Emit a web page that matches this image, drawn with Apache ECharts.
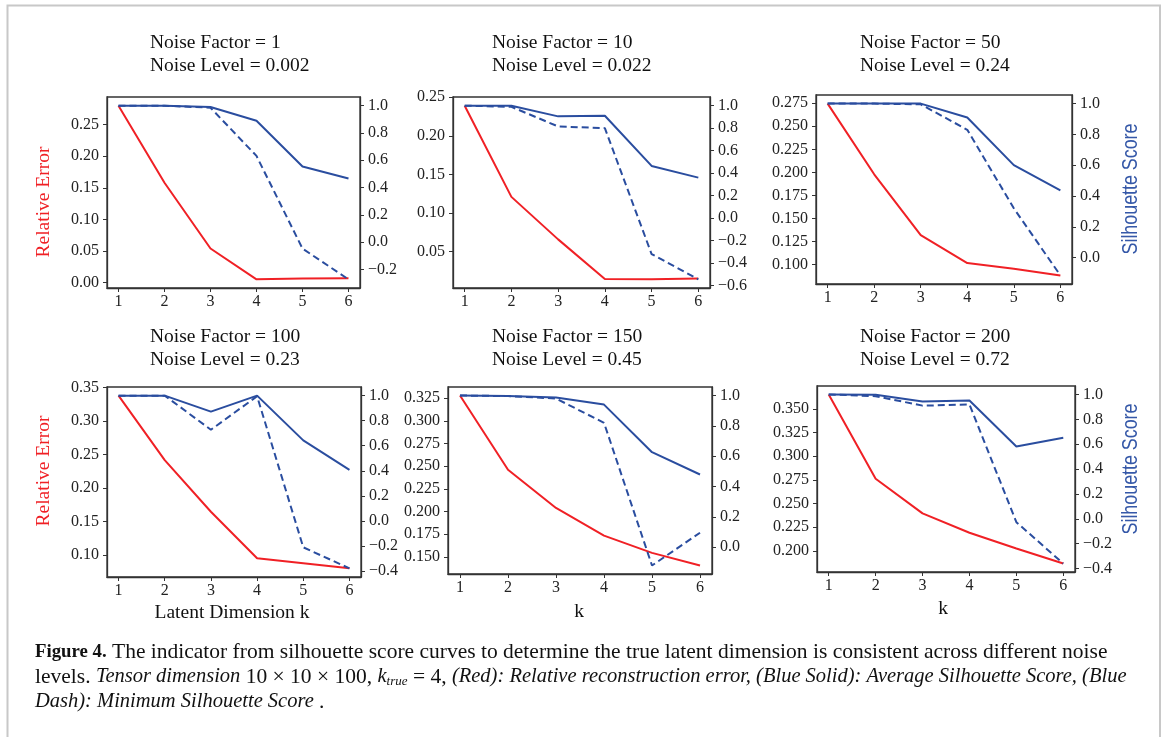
<!DOCTYPE html>
<html><head><meta charset="utf-8">
<script src="https://cdn.jsdelivr.net/npm/echarts@6/dist/echarts.min.js"></script>
<style>html,body{margin:0;padding:0;background:#fff}#c{width:1167px;height:737px}</style>
</head><body><div id="c"></div>
<script>
// ---------------- DATA ----------------
const kValues = [1, 2, 3, 4, 5, 6];
const xTicks = [1, 2, 3, 4, 5, 6];

const noiseFactors = ['1', '10', '50', '100', '150', '200'];
const noiseLevels = ['0.002', '0.022', '0.24', '0.23', '0.45', '0.72'];

// Relative error (red, left axis)
const red1 = [0.280, 0.158, 0.054, 0.0052, 0.0063, 0.0068];
const red2 = [0.239, 0.121, 0.066, 0.0147, 0.0143, 0.0152];
const red3 = [0.2746, 0.198, 0.132, 0.1018, 0.0957, 0.0884];
const red4 = [0.338, 0.2417, 0.1646, 0.095, 0.0876, 0.080];
const red5 = [0.328, 0.2461, 0.204, 0.1735, 0.1544, 0.1405];
const red6 = [0.3652, 0.2761, 0.2396, 0.2191, 0.2025, 0.1866];

// Average silhouette score (blue solid, right axis)
const avg1 = [1.0, 1.0, 0.99, 0.89, 0.554, 0.466];
const avg2 = [1.0, 1.0, 0.905, 0.91, 0.464, 0.36];
const avg3 = [1.0, 1.0, 1.0, 0.91, 0.60, 0.436];
const avg4 = [1.0, 1.0, 0.872, 1.0, 0.643, 0.408];
const avg5 = [1.0, 0.996, 0.987, 0.94, 0.626, 0.479];
const avg6 = [1.0, 0.997, 0.943, 0.951, 0.581, 0.651];

// Minimum silhouette score (blue dashed, right axis)
const min1 = [1.0, 1.0, 0.985, 0.632, -0.047, -0.272];
const min2 = [1.0, 0.99, 0.815, 0.80, -0.32, -0.545];
const min3 = [1.0, 1.0, 0.995, 0.83, 0.32, -0.116];
const min4 = [1.0, 1.0, 0.728, 0.995, -0.211, -0.379];
const min5 = [1.0, 0.996, 0.98, 0.82, -0.121, 0.095];
const min6 = [1.0, 0.986, 0.91, 0.919, -0.027, -0.36];

// Tick labels
const leftTicks1 = ['0.00', '0.05', '0.10', '0.15', '0.20', '0.25'];
const leftTicks2 = ['0.05', '0.10', '0.15', '0.20', '0.25'];
const leftTicks3 = ['0.100', '0.125', '0.150', '0.175', '0.200', '0.225', '0.250', '0.275'];
const leftTicks4 = ['0.10', '0.15', '0.20', '0.25', '0.30', '0.35'];
const leftTicks5 = ['0.150', '0.175', '0.200', '0.225', '0.250', '0.275', '0.300', '0.325'];
const leftTicks6 = ['0.200', '0.225', '0.250', '0.275', '0.300', '0.325', '0.350'];
const rightTicks1 = ['-0.2', '0.0', '0.2', '0.4', '0.6', '0.8', '1.0'];
const rightTicks2 = ['-0.6', '-0.4', '-0.2', '0.0', '0.2', '0.4', '0.6', '0.8', '1.0'];
const rightTicks3 = ['0.0', '0.2', '0.4', '0.6', '0.8', '1.0'];
const rightTicks4 = ['-0.4', '-0.2', '0.0', '0.2', '0.4', '0.6', '0.8', '1.0'];
const rightTicks5 = ['0.0', '0.2', '0.4', '0.6', '0.8', '1.0'];
const rightTicks6 = ['-0.4', '-0.2', '0.0', '0.2', '0.4', '0.6', '0.8', '1.0'];

// ---------------- LAYOUT / STYLE ----------------
const panels = [
  { red: red1, avg: avg1, min: min1, lt: leftTicks1, rt: rightTicks1 },
  { red: red2, avg: avg2, min: min2, lt: leftTicks2, rt: rightTicks2 },
  { red: red3, avg: avg3, min: min3, lt: leftTicks3, rt: rightTicks3 },
  { red: red4, avg: avg4, min: min4, lt: leftTicks4, rt: rightTicks4 },
  { red: red5, avg: avg5, min: min5, lt: leftTicks5, rt: rightTicks5 },
  { red: red6, avg: avg6, min: min6, lt: leftTicks6, rt: rightTicks6 }
];
// [left, top, width, height]
const boxes = [
  [107, 97, 253, 191], [453, 97, 257, 191], [816, 95, 256, 189],
  [107, 387, 254, 190], [448, 387, 264, 187], [817, 386, 258, 186]
];
const titlePos = [[150, 31], [492, 31], [860, 31], [150, 325], [492, 325], [860, 325]];

const RED = '#f02025';
const BLUE = '#2a4d9f';
const AXIS = '#333333';
const SERIF = '"Liberation Serif", "Times New Roman", serif';
const TICKFS = 16;

function margins(arrs) {
  const all = [].concat(...arrs);
  const lo = Math.min(...all), hi = Math.max(...all);
  const r = hi - lo;
  return [lo - 0.05 * r, hi + 0.05 * r];
}
const fmt = s => s.replace('-', '\u2212');

const grid = [], xAxis = [], yAxis = [], series = [], graphic = [];

panels.forEach((p, i) => {
  const b = boxes[i];
  grid.push({ left: b[0], top: b[1], width: b[2], height: b[3], show: true,
    borderColor: AXIS, borderWidth: 1.3, backgroundColor: 'transparent', outerBoundsMode: 'none' });
  xAxis.push({
    type: 'value', gridIndex: i, min: 0.75, max: 6.25, position: 'bottom',
    axisLine: { show: true, onZero: false, lineStyle: { color: AXIS, width: 1.3 } },
    axisTick: { show: true, length: 4, customValues: xTicks, lineStyle: { color: AXIS, width: 1 } },
    axisLabel: { customValues: xTicks, margin: 6, color: '#222', fontFamily: SERIF, fontSize: TICKFS,
      formatter: v => String(Math.round(v)) },
    splitLine: { show: false }
  });
  const le = margins([p.red]);
  const ltv = p.lt.map(Number);
  yAxis.push({
    type: 'value', gridIndex: i, position: 'left', min: le[0], max: le[1],
    axisLine: { show: true, onZero: false, lineStyle: { color: AXIS, width: 1.3 } },
    axisTick: { show: true, length: 4, customValues: ltv, lineStyle: { color: AXIS, width: 1 } },
    axisLabel: { customValues: ltv, margin: 8, color: '#222', fontFamily: SERIF, fontSize: TICKFS,
      formatter: v => { const j = ltv.findIndex(t => Math.abs(t - v) < 1e-9); return j >= 0 ? p.lt[j] : ''; } },
    splitLine: { show: false }
  });
  const re = margins([p.avg, p.min]);
  const rtv = p.rt.map(Number);
  yAxis.push({
    type: 'value', gridIndex: i, position: 'right', min: re[0], max: re[1],
    axisLine: { show: true, onZero: false, lineStyle: { color: AXIS, width: 1.3 } },
    axisTick: { show: true, length: 4, customValues: rtv, lineStyle: { color: AXIS, width: 1 } },
    axisLabel: { customValues: rtv, margin: 8, color: '#222', fontFamily: SERIF, fontSize: TICKFS,
      formatter: v => { const j = rtv.findIndex(t => Math.abs(t - v) < 1e-9); return j >= 0 ? fmt(p.rt[j]) : ''; } },
    splitLine: { show: false }
  });
  const common = { type: 'line', xAxisIndex: i, symbol: 'none', showSymbol: false, silent: true, animation: false };
  series.push(Object.assign({}, common, { yAxisIndex: 2 * i, data: kValues.map((k, j) => [k, p.red[j]]),
    lineStyle: { color: RED, width: 2 }, itemStyle: { color: RED } }));
  series.push(Object.assign({}, common, { yAxisIndex: 2 * i + 1, data: kValues.map((k, j) => [k, p.min[j]]),
    lineStyle: { color: BLUE, width: 2, type: [7, 4] }, itemStyle: { color: BLUE } }));
  series.push(Object.assign({}, common, { yAxisIndex: 2 * i + 1, data: kValues.map((k, j) => [k, p.avg[j]]),
    lineStyle: { color: BLUE, width: 2 }, itemStyle: { color: BLUE } }));

  graphic.push({ type: 'text', x: titlePos[i][0], y: titlePos[i][1], silent: true,
    style: { text: 'Noise Factor = ' + noiseFactors[i] + '\nNoise Level = ' + noiseLevels[i],
      fill: '#111', fontFamily: SERIF, fontSize: 19.5, lineHeight: 23, align: 'left', verticalAlign: 'top' } });
});

// axis names
[[44, 202], [44, 471]].forEach(pt => graphic.push({ type: 'text', x: pt[0], y: pt[1], rotation: Math.PI / 2, silent: true,
  style: { text: 'Relative Error', fill: RED, fontFamily: SERIF, fontSize: 19.5, align: 'center', verticalAlign: 'middle' } }));
[[1131, 189], [1131, 469]].forEach(pt => graphic.push({ type: 'text', x: pt[0], y: pt[1], rotation: Math.PI / 2,
  scaleX: 0.83, silent: true,
  style: { text: 'Silhouette Score', fill: '#3558a8', fontFamily: '"Liberation Sans", sans-serif', fontSize: 21.5, align: 'center', verticalAlign: 'middle' } }));
[[232, 613, 'Latent Dimension k'], [579, 612, 'k'], [943, 609, 'k']].forEach(pt => graphic.push({ type: 'text', x: pt[0], y: pt[1], silent: true,
  style: { text: pt[2], fill: '#111', fontFamily: SERIF, fontSize: 19.5, align: 'center', verticalAlign: 'middle' } }));

// frame
graphic.push({ type: 'polyline', silent: true, shape: { points: [[7.5, 737], [7.5, 5.5], [1160, 5.5], [1160, 737]] },
  style: { stroke: '#c8c8c8', lineWidth: 2, fill: null } });

// caption
const CAPFS = 21.5;
const capRich = {
  b: { fontWeight: 'bold', fontFamily: SERIF, fontSize: 18.8, fill: '#111' },
  i: { fontStyle: 'italic', fontFamily: SERIF, fontSize: 20.5, fill: '#111' },
  s: { fontStyle: 'italic', fontFamily: SERIF, fontSize: 13, fill: '#111', padding: [10, 0, 0, 0] }
};
const capLines = [
  '{b|Figure 4.} The indicator from silhouette score curves to determine the true latent dimension is consistent across different noise',
  'levels. {i|Tensor dimension} 10 \u00d7 10 \u00d7 100, {i|k}{s|true} = 4, {i|(Red): Relative reconstruction error, (Blue Solid): Average Silhouette Score, (Blue}',
  '{i|Dash): Minimum Silhouette Score }.'
];
const capY = [652, 677, 702];
capLines.forEach((t, j) => graphic.push({ type: 'text', x: 35, y: capY[j], silent: true,
  style: { text: t, rich: capRich, fill: '#111', fontFamily: SERIF, fontSize: CAPFS, align: 'left', verticalAlign: 'middle' } }));

const chart = echarts.init(document.getElementById('c'), null, { renderer: 'canvas' });
chart.setOption({ animation: false, backgroundColor: '#fff', grid, xAxis, yAxis, series, graphic });
</script></body></html>
